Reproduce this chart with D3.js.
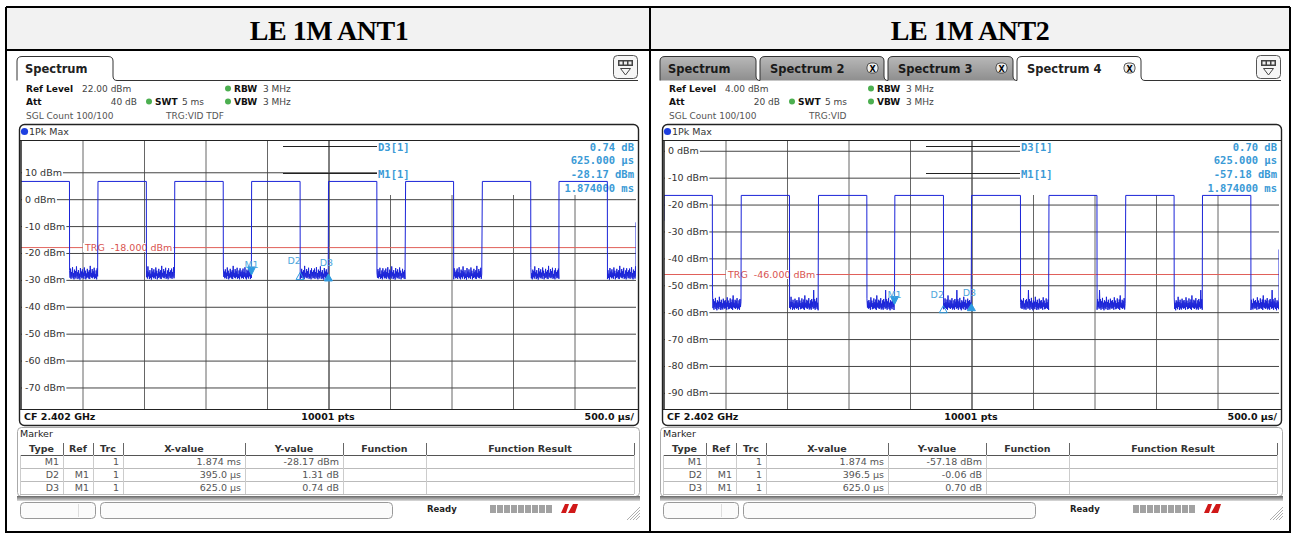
<!DOCTYPE html>
<html>
<head>
<meta charset="utf-8">
<script src="https://cdnjs.cloudflare.com/ajax/libs/d3/7.8.5/d3.min.js"></script>
<style>
  body { margin: 0; background: #fff; }
  svg text { font-family: 'DejaVu Sans', sans-serif; white-space: pre; }
</style>
</head>
<body>
<script>
// ---- values ----
var titles = ["LE 1M ANT1", "LE 1M ANT2"];
var refLevels = [22, 4];                       // dBm at top of grid
var levelTicks1 = [10, 0, -10, -20, -30, -40, -50, -60, -70];
var levelTicks2 = [0, -10, -20, -30, -40, -50, -60, -70, -80, -90];
var trgLevels = [-18, -46];

// burst edges (ms) and levels (dBm)
var rise1 = [0, 0.625, 1.249, 1.874, 2.499, 3.126, 3.750, 4.373];
var fall1 = [0.394, 1.019, 1.644, 2.269, 2.893, 3.517, 4.144, 4.767];
var rise2 = [0, 0.627, 1.255, 1.876, 2.500, 3.129, 3.753, 4.377];
var fall2 = [0.393, 1.020, 1.649, 2.272, 2.898, 3.520, 4.147, 4.771];
var levels1 = {start: 6.6, high: 6.6, low: -28.4, end: -8.6};
var levels2 = {start: -26, high: -16.6, low: -57.6, end: -36.7};

// noise floor ripple (dB around the low level), estimated from the trace band
var noise1 = [1.9,-0.8,2.6,-1.2,1.3,-0.4,3.1,-1.0,0.9,-1.4,2.2,-0.6,1.7,-1.1,3.4,-0.3,1.2,-1.3,2.0,-0.9,
              0.7,-1.5,2.8,-0.5,1.5,-1.0,2.3,-0.7,1.1,-1.2,3.0,-0.2,1.8,-1.4,0.8,-0.9,2.5,-0.6,1.4,-1.1,
              2.0,-1.3,3.6,-0.4,1.0,-0.8,2.4,-1.0,1.6,-0.5,2.9,-1.2,0.6,-0.9,1.9,-1.4,2.7,-0.3,1.3,-1.0];
var noise2 = [5.8,-0.9,2.4,-1.5,1.6,-0.6,2.9,-1.2,1.1,-1.7,2.0,-0.8,1.5,-1.3,3.3,-0.5,1.4,-1.6,2.2,-1.0,
              0.9,-1.4,2.6,-0.7,1.7,-1.1,2.1,-0.9,1.2,-1.5,3.1,-0.4,1.9,-1.3,1.0,-1.1,2.7,-0.8,1.3,-1.2,
              2.3,-1.6,3.8,-0.6,1.1,-0.9,2.2,-1.2,1.8,-0.7,2.8,-1.4,0.8,-1.0,2.0,-1.5,2.5,-0.5,1.5,-1.1];

var markers1 = [
  {type: "M1", ref: "",   trc: "1", xv: "1.874 ms", yv: "-28.17 dBm", t: 1.874, lvl: -28.17, shape: "down"},
  {type: "D2", ref: "M1", trc: "1", xv: "395.0 \u00b5s", yv: "1.31 dB", t: 2.269, lvl: -26.86, shape: "open"},
  {type: "D3", ref: "M1", trc: "1", xv: "625.0 \u00b5s", yv: "0.74 dB", t: 2.499, lvl: -27.43, shape: "up"}
];
var markers2 = [
  {type: "M1", ref: "",   trc: "1", xv: "1.874 ms", yv: "-57.18 dBm", t: 1.874, lvl: -57.18, shape: "down"},
  {type: "D2", ref: "M1", trc: "1", xv: "396.5 \u00b5s", yv: "-0.06 dB", t: 2.2705, lvl: -57.24, shape: "open"},
  {type: "D3", ref: "M1", trc: "1", xv: "625.0 \u00b5s", yv: "0.70 dB", t: 2.499, lvl: -56.48, shape: "up"}
];
var info1 = ["0.74 dB", "625.000 \u00b5s", "-28.17 dBm", "1.874000 ms"];
var info2 = ["0.70 dB", "625.000 \u00b5s", "-57.18 dBm", "1.874000 ms"];

var header1 = {ref: "22.00 dBm", att: "40 dB", trg: "TRG:VID TDF"};
var header2 = {ref: "4.00 dBm", att: "20 dB", trg: "TRG:VID"};
var tabs1 = [{label: "Spectrum", active: true}];
var tabs2 = [{label: "Spectrum", active: false}, {label: "Spectrum 2", active: false, close: true},
             {label: "Spectrum 3", active: false, close: true}, {label: "Spectrum 4", active: true, close: true}];

var tableHeads = ["Type", "Ref", "Trc", "X-value", "Y-value", "Function", "Function Result"];

// ---- layout ----
var W = 1292, H = 533;
var svg = d3.select("body").append("svg").attr("width", W).attr("height", H);

svg.append("rect").attr("x", 6).attr("y", 7).attr("width", 1284).attr("height", 43).attr("fill", "#f2f2f2");
[[6, 7, 1290, 7], [6, 50, 1290, 50], [6, 532, 1290, 532], [6, 7, 6, 533], [650, 7, 650, 533], [1290, 7, 1290, 533]]
  .forEach(function(l) {
    svg.append("line").attr("x1", l[0]).attr("y1", l[1]).attr("x2", l[2]).attr("y2", l[3])
      .attr("stroke", "#000").attr("stroke-width", 2);
  });
svg.selectAll("text.title").data(titles).enter().append("text")
  .attr("class", "title")
  .attr("x", function(d, i) { return i ? 970 : 329; })
  .attr("y", 40)
  .attr("text-anchor", "middle")
  .style("font-family", "'Liberation Serif', serif")
  .style("font-weight", "bold")
  .style("font-size", "28px")
  .style("letter-spacing", "-0.5px")
  .text(function(d) { return d; });

var grad = svg.append("defs").append("linearGradient").attr("id", "sbar").attr("x1", 0).attr("x2", 0).attr("y1", 0).attr("y2", 1);
grad.append("stop").attr("offset", "0").attr("stop-color", "#666");
grad.append("stop").attr("offset", "1").attr("stop-color", "#ddd");
var tgrad = svg.select("defs").append("linearGradient").attr("id", "tabg").attr("x1", 0).attr("x2", 0).attr("y1", 0).attr("y2", 1);
tgrad.append("stop").attr("offset", "0").attr("stop-color", "#b8b8b8");
tgrad.append("stop").attr("offset", "1").attr("stop-color", "#8e8e8e");

var tabX = [[17, 117], [117, 245], [245, 374], [374, 502]];
var colEdges = [20, 63, 93, 123, 245, 343, 426, 634];

function buildTrace(rise, fall, lv, noise) {
  var pts = [], step = 0.004;
  pts.push([0, lv.start]);
  for (var k = 0; k < rise.length; k++) {
    pts.push([rise[k] + 0.001, lv.high]);
    pts.push([fall[k], lv.high]);
    var stop = k + 1 < rise.length ? rise[k + 1] : 5;
    var j = 0;
    for (var t = fall[k] + 0.001; t < stop; t += step, j++) {
      pts.push([t, lv.low + noise[(k * 11 + j) % noise.length]]);
    }
  }
  pts.push([5, lv.end]);
  return pts;
}

function drawPanel(dx, ref, ticks, trg, trace, markers, info, head, tabs) {
  var g = svg.append("g").attr("transform", "translate(" + dx + ",0)");
  var x = d3.scaleLinear().domain([0, 5]).range([21, 636]);
  var y = d3.scaleLinear().domain([ref, ref - 100]).range([140, 409]);

  // tabs
  tabs.forEach(function(tb, i) {
    var x0 = tabX[i][0], x1 = tabX[i][1];
    g.append("path")
      .attr("d", "M" + x0 + ",80.5V61Q" + x0 + ",56.5 " + (x0 + 5) + ",56.5H" + (x1 - 9) +
        "Q" + (x1 - 4) + ",56.5 " + (x1 - 4) + ",61V76Q" + (x1 - 4) + ",80.5 " + x1 + ",80.5")
      .attr("fill", tb.active ? "#fff" : "url(#tabg)")
      .attr("stroke", "#333").attr("stroke-width", 1);
    g.append("text").attr("x", x0 + (i ? 10 : 8)).attr("y", 73).attr("font-size", 11.5).attr("font-weight", "bold")
      .attr("fill", tb.active ? "#222" : "#1a1a1a").text(tb.label);
    if (tb.close) {
      g.append("rect").attr("x", x1 - 21).attr("y", 63).attr("width", 11).attr("height", 10).attr("rx", 4)
        .attr("fill", "#eee").attr("stroke", "#333").attr("stroke-width", 0.8);
      g.append("text").attr("x", x1 - 15.5).attr("y", 71.5).attr("text-anchor", "middle")
        .attr("font-size", 8).attr("font-weight", "bold").text("X");
    }
  });
  g.append("line").attr("x1", tabX[tabs.length - 1][1]).attr("x2", 638).attr("y1", 80.5).attr("y2", 80.5).attr("stroke", "#333");
  g.append("rect").attr("x", 613.5).attr("y", 55.5).attr("width", 24).attr("height", 23).attr("rx", 4)
    .attr("fill", "#f6f6f6").attr("stroke", "#555");
  g.append("rect").attr("x", 618).attr("y", 60).attr("width", 15).attr("height", 6).attr("fill", "#444");
  [619.5, 624, 628.5].forEach(function(v) {
    g.append("rect").attr("x", v).attr("y", 61.5).attr("width", 3).attr("height", 3).attr("fill", "#eee");
  });
  g.append("path").attr("d", "M620.5,68.5H630.5L625.5,75Z").attr("fill", "none").attr("stroke", "#444");

  // settings lines
  function txt(xx, yy, s, bold, anchor, col, size) {
    return g.append("text").attr("x", xx).attr("y", yy).attr("font-size", size || 9.5)
      .attr("font-weight", bold ? "bold" : "normal").attr("text-anchor", anchor || "start")
      .attr("fill", col || (bold ? "#111" : "#444")).text(s);
  }
  function dot(xx, yy) {
    g.append("circle").attr("cx", xx).attr("cy", yy).attr("r", 3).attr("fill", "#4caf50");
  }
  txt(26, 92, "Ref Level", true, null, null, 9); txt(82, 92, head.ref, false, null, null, 9);
  dot(228, 88.5); txt(234, 92, "RBW", true, null, null, 9); txt(263, 92, "3 MHz", false, null, null, 9);
  txt(26, 105, "Att", true, null, null, 9); txt(137, 105, head.att, false, "end", null, 9);
  dot(149, 101.5); txt(155, 105, "SWT", true, null, null, 9); txt(182, 105, "5 ms", false, null, null, 9);
  dot(228, 101.5); txt(234, 105, "VBW", true, null, null, 9); txt(263, 105, "3 MHz", false, null, null, 9);
  txt(26, 119, "SGL Count 100/100", false, "start", "#555", 9); txt(166, 119, head.trg, false, "start", "#555", 9);

  // plot frame
  g.append("rect").attr("x", 19.5).attr("y", 124.5).attr("width", 619).attr("height", 301).attr("rx", 5)
    .attr("fill", "#fff").attr("stroke", "#222").attr("stroke-width", 1.4);
  g.append("circle").attr("cx", 24.5).attr("cy", 131.5).attr("r", 3.6).attr("fill", "#1d3fe0");
  txt(29, 135, "1Pk Max", false, "start", "#333");

  // grid
  var grid = g.append("g");
  grid.append("g").attr("transform", "translate(0,409)")
    .call(d3.axisBottom(x).tickValues(d3.range(0.5, 5, 0.5)).tickSize(-269).tickFormat(""))
    .call(function(a) {
      a.select(".domain").remove();
      a.selectAll("line").attr("stroke", function(d) { return Math.abs(d - 2.5) < 1e-6 ? "#000" : "#666"; });
    });
  grid.append("g").attr("transform", "translate(21,0)")
    .call(d3.axisRight(y).tickValues(ticks).tickSize(615).tickFormat(""))
    .call(function(a) { a.select(".domain").remove(); a.selectAll("line").attr("stroke", "#444"); });

  // marker info box
  var bx = 377;
  g.append("rect").attr("x", bx).attr("y", 141).attr("width", 636 - bx).attr("height", 54).attr("fill", "#fff");
  g.append("line").attr("x1", 283).attr("x2", bx).attr("y1", 146.5).attr("y2", 146.5).attr("stroke", "#222");
  g.append("line").attr("x1", 283).attr("x2", bx).attr("y1", 173.5).attr("y2", 173.5).attr("stroke", "#222");
  function mono(xx, yy, s, anchor) {
    g.append("text").attr("x", xx).attr("y", yy).attr("font-size", 10.5).attr("font-weight", "bold")
      .attr("text-anchor", anchor || "start").attr("fill", "#3a9ad6")
      .style("font-family", "'DejaVu Sans Mono', monospace").text(s);
  }
  mono(bx + 1, 150.5, "D3[1]"); mono(bx + 1, 177.5, "M1[1]");
  info.forEach(function(s, i) { mono(634, 150.5 + i * 13.7, s, "end"); });

  // trigger line
  g.append("line").attr("x1", 21).attr("x2", 636).attr("y1", y(trg)).attr("y2", y(trg))
    .attr("stroke", "#e0605a").attr("stroke-width", 1);
  var tl = g.append("text").attr("x", 85).attr("y", y(trg) + 3.5).attr("font-size", 9.5).attr("fill", "#d9534f")
    .text("TRG  " + trg.toFixed(3) + " dBm");
  var bb = tl.node().getBBox();
  g.insert("rect", function() { return tl.node(); }).attr("x", bb.x - 1).attr("y", bb.y + 1)
    .attr("width", bb.width + 2).attr("height", bb.height - 2).attr("fill", "#fff");

  // level labels
  ticks.forEach(function(v) {
    var t = g.append("text").attr("x", 25).attr("y", y(v) + 3.5).attr("font-size", 9.5).attr("fill", "#333")
      .text(v + " dBm");
    var b = t.node().getBBox();
    g.insert("rect", function() { return t.node(); }).attr("x", 22).attr("y", b.y + 1)
      .attr("width", b.x + b.width + 1 - 22).attr("height", b.height - 2).attr("fill", "#fff");
  });

  // trace
  g.append("defs").append("clipPath").attr("id", "clip" + dx).append("rect")
    .attr("x", 21).attr("y", 140).attr("width", 615).attr("height", 269);
  g.append("path").datum(trace).attr("clip-path", "url(#clip" + dx + ")")
    .attr("d", d3.line().x(function(d) { return x(d[0]); }).y(function(d) { return y(d[1]); }))
    .attr("fill", "none").attr("stroke", "#1b24d8").attr("stroke-width", 1);

  // markers
  markers.forEach(function(m) {
    var mx = x(m.t), my = y(m.lvl);
    var d = m.shape === "down"
      ? "M" + (mx - 4) + "," + (my - 8) + "H" + (mx + 4) + "L" + mx + "," + my + "Z"
      : "M" + mx + "," + (my + 1) + "L" + (mx + 4) + "," + (my + 8) + "H" + (mx - 4) + "Z";
    g.append("path").attr("d", d)
      .attr("fill", m.shape === "open" ? "none" : "#2f9be0")
      .attr("stroke", "#2f9be0").attr("stroke-width", 1);
    g.append("text").attr("x", mx + (m.shape === "open" ? -6 : m.shape === "up" ? -2 : 0))
      .attr("y", my - 7).attr("font-size", 9.5).attr("text-anchor", "middle")
      .attr("fill", "#4fa6dc").text(m.type);
  });

  // footer
  g.append("line").attr("x1", 20).attr("x2", 638).attr("y1", 409.5).attr("y2", 409.5).attr("stroke", "#222").attr("stroke-width", 1.2);
  g.append("line").attr("x1", 20).attr("x2", 638).attr("y1", 140.5).attr("y2", 140.5).attr("stroke", "#222");
  g.append("line").attr("x1", 21).attr("x2", 21).attr("y1", 140).attr("y2", 409).attr("stroke", "#222").attr("stroke-width", 1.5);
  txt(24, 420, "CF 2.402 GHz", true, "start", "#111");
  txt(328, 420, "10001 pts", true, "middle", "#111");
  txt(634, 420, "500.0 \u00b5s/", true, "end", "#111");

  // marker table
  g.append("rect").attr("x", 17.5).attr("y", 427.5).attr("width", 622).attr("height", 69).attr("rx", 4)
    .attr("fill", "#fff").attr("stroke", "#aaa");
  txt(20, 437, "Marker", false, "start", "#222");
  g.append("line").attr("x1", 20).attr("x2", 634).attr("y1", 455.5).attr("y2", 455.5).attr("stroke", "#555");
  [468.5, 481.5, 494.5].forEach(function(v) {
    g.append("line").attr("x1", 20).attr("x2", 634).attr("y1", v).attr("y2", v).attr("stroke", "#bbb");
  });
  colEdges.slice(1).forEach(function(v) {
    g.append("line").attr("x1", v + 0.5).attr("x2", v + 0.5).attr("y1", 443).attr("y2", 455).attr("stroke", "#666");
    g.append("line").attr("x1", v + 0.5).attr("x2", v + 0.5).attr("y1", 455).attr("y2", 494).attr("stroke", "#ccc");
  });
  g.append("line").attr("x1", 20.5).attr("x2", 20.5).attr("y1", 455).attr("y2", 494).attr("stroke", "#ccc");
  tableHeads.forEach(function(h, i) {
    txt((colEdges[i] + colEdges[i + 1]) / 2, 452, h, true, "middle", "#333");
  });
  markers.forEach(function(m, r) {
    var yy = 465 + r * 13;
    txt(59, yy, m.type, false, "end", "#555");
    txt(89, yy, m.ref, false, "end", "#555");
    txt(119, yy, m.trc, false, "end", "#555");
    txt(241, yy, m.xv, false, "end", "#555");
    txt(339, yy, m.yv, false, "end", "#555");
  });

  // status bar
  g.append("rect").attr("x", 17).attr("y", 496).attr("width", 623).attr("height", 5).attr("fill", "url(#sbar)");
  g.append("rect").attr("x", 20.5).attr("y", 502.5).attr("width", 75).attr("height", 16).attr("rx", 4)
    .attr("fill", "#fbfbfb").attr("stroke", "#999");
  g.append("line").attr("x1", 78.5).attr("x2", 78.5).attr("y1", 504).attr("y2", 517).attr("stroke", "#ddd");
  g.append("rect").attr("x", 100.5).attr("y", 502.5).attr("width", 292).attr("height", 16).attr("rx", 4)
    .attr("fill", "#fbfbfb").attr("stroke", "#999");
  txt(427, 512, "Ready", true, "start", "#222", 8.5);
  d3.range(9).forEach(function(i) {
    g.append("rect").attr("x", 490 + i * 7).attr("y", 505).attr("width", 6).attr("height", 8).attr("fill", "#a2a2a2");
  });
  g.append("path").attr("d", "M561,513L565,504H569L566,513ZM568,513L573,504H578L575,513Z").attr("fill", "#d01818");
  d3.range(4).forEach(function(i) {
    g.append("line").attr("x1", 627 + i * 3).attr("y1", 520).attr("x2", 640).attr("y2", 507 + i * 3)
      .attr("stroke", "#999").attr("stroke-width", 0.8);
  });
}

drawPanel(0, refLevels[0], levelTicks1, trgLevels[0], buildTrace(rise1, fall1, levels1, noise1), markers1, info1, header1, tabs1);
drawPanel(643, refLevels[1], levelTicks2, trgLevels[1], buildTrace(rise2, fall2, levels2, noise2), markers2, info2, header2, tabs2);
</script>
</body>
</html>
